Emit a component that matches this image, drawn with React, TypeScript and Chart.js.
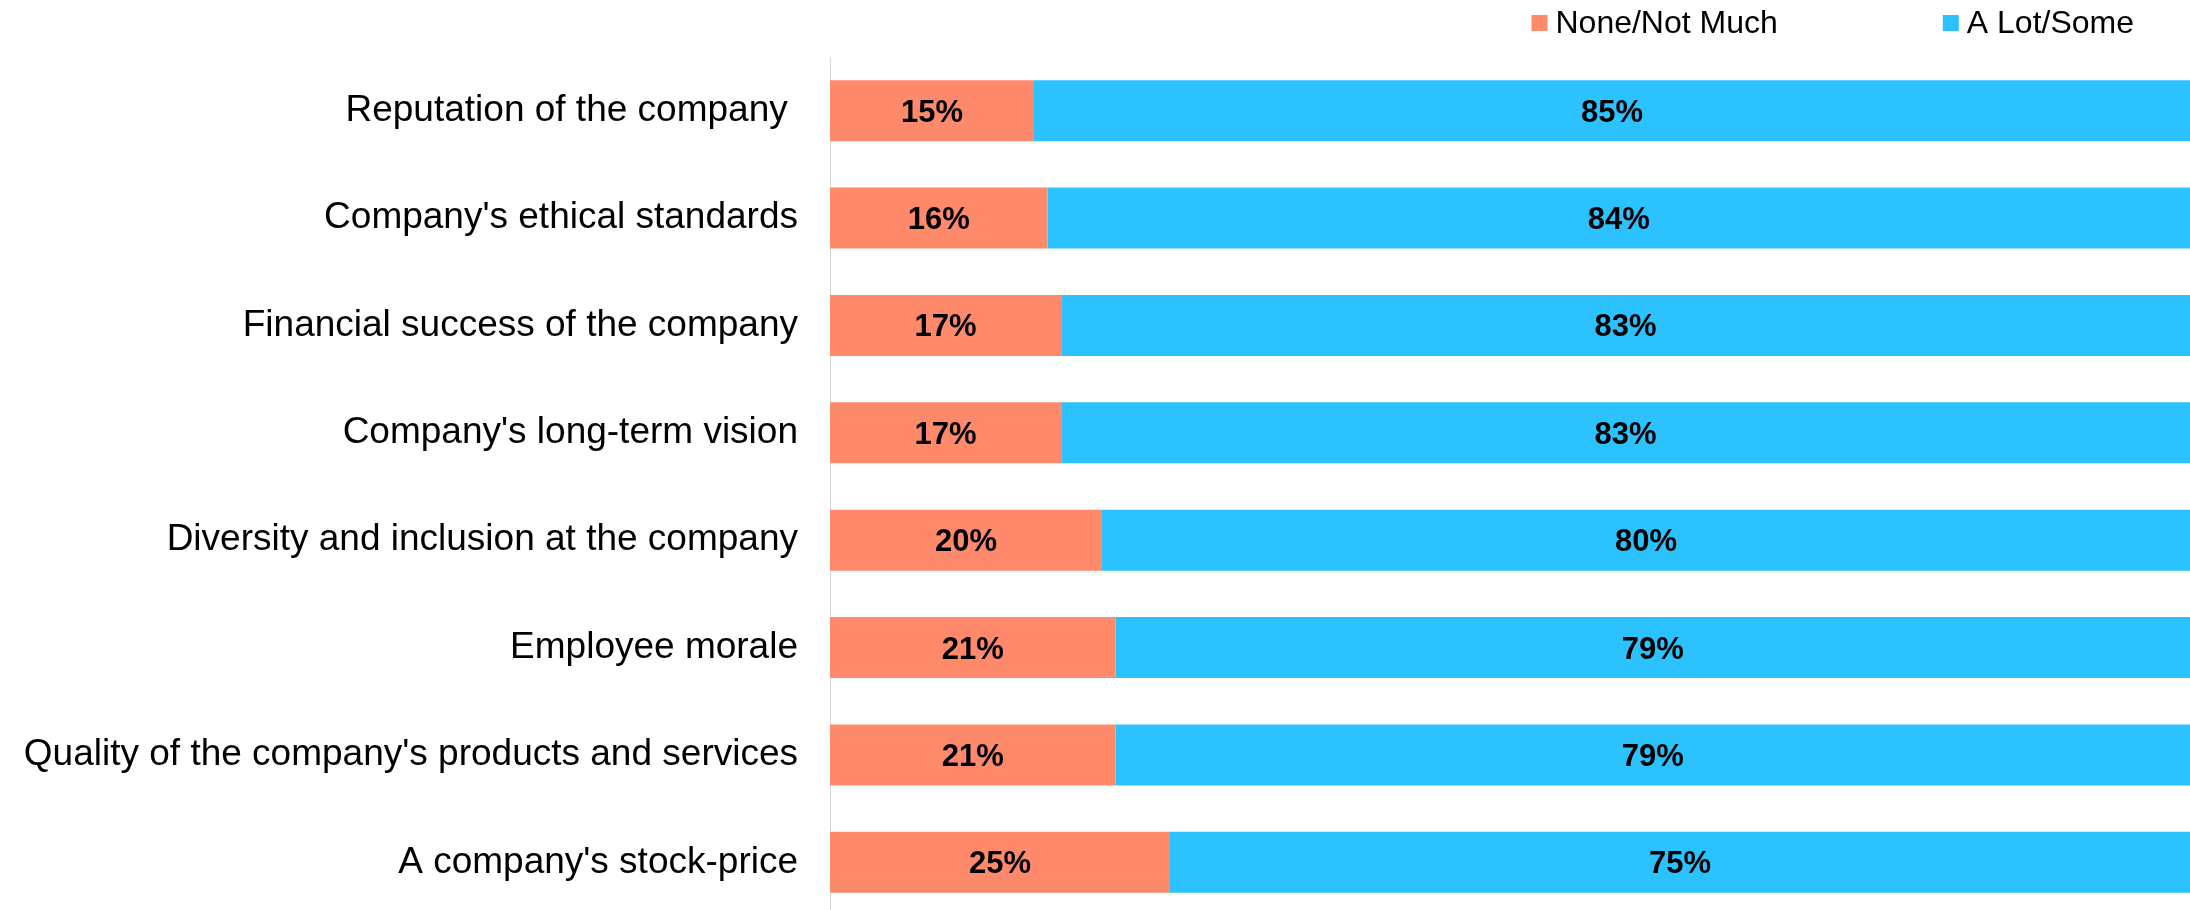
import React, { useEffect, useRef } from "react";
import { Chart, registerables } from "chart.js";

Chart.register(...registerables);

const categories = [
  "Reputation of the company ",
  "Company's ethical standards",
  "Financial success of the company",
  "Company's long-term vision",
  "Diversity and inclusion at the company",
  "Employee morale",
  "Quality of the company's products and services",
  "A company's stock-price",
];
const noneNotMuch = [15, 16, 17, 17, 20, 21, 21, 25];
const aLotSome = [85, 84, 83, 83, 80, 79, 79, 75];
const seriesNames = ["None/Not Much", "A Lot/Some"];
const seriesColors = ["#FF896B", "#2CC1FF"];

const FONT = "'Liberation Sans', Arial, Helvetica, sans-serif";

const barLabels = {
  id: "barLabels",
  afterDatasetsDraw(chart: any) {
    const ctx = chart.ctx;
    ctx.save();
    ctx.font = `bold 31px ${FONT}`;
    ctx.fillStyle = "#000000";
    ctx.textAlign = "center";
    ctx.textBaseline = "alphabetic";
    chart.data.datasets.forEach((ds: any, di: number) => {
      const meta = chart.getDatasetMeta(di);
      meta.data.forEach((el: any, i: number) => {
        const { x, base, y } = el.getProps(["x", "base", "y"], true);
        ctx.fillText(`${ds.data[i]}%`, (x + base) / 2, y + 11);
      });
    });
    ctx.restore();
  },
};

const topLegend = {
  id: "topLegend",
  afterDraw(chart: any) {
    const ctx = chart.ctx;
    ctx.save();
    ctx.font = `32px ${FONT}`;
    ctx.textAlign = "left";
    ctx.textBaseline = "alphabetic";
    const box = 16;
    const gap = 8;
    const itemGap = 165;
    const rightMargin = 56;
    const widths = seriesNames.map((n) => ctx.measureText(n).width);
    const total =
      widths.reduce((a, w) => a + box + gap + w, 0) + itemGap * (seriesNames.length - 1);
    let x = chart.width - rightMargin - total;
    seriesNames.forEach((name, i) => {
      ctx.fillStyle = seriesColors[i];
      ctx.fillRect(x, 15, box, box);
      ctx.fillStyle = "#000000";
      ctx.fillText(name, x + box + gap, 33);
      x += box + gap + widths[i] + itemGap;
    });
    ctx.restore();
  },
};

export default function App() {
  const ref = useRef<HTMLCanvasElement>(null);
  useEffect(() => {
    document.body.style.margin = "0";
    const chart = new Chart(ref.current as HTMLCanvasElement, {
      type: "bar",
      data: {
        labels: categories,
        datasets: [
          {
            label: seriesNames[0],
            data: noneNotMuch,
            backgroundColor: seriesColors[0],
            categoryPercentage: 1,
            barPercentage: 0.568,
          },
          {
            label: seriesNames[1],
            data: aLotSome,
            backgroundColor: seriesColors[1],
            categoryPercentage: 1,
            barPercentage: 0.568,
          },
        ],
      },
      options: {
        indexAxis: "y",
        responsive: false,
        animation: false,
        devicePixelRatio: 1,
        layout: { padding: { top: 57, right: 0, bottom: 0, left: 0 } },
        plugins: {
          legend: { display: false },
          tooltip: { enabled: false },
          title: { display: false },
        },
        scales: {
          x: { stacked: true, display: false, min: 0, max: 100 },
          y: {
            stacked: true,
            grid: { display: false, drawTicks: false },
            border: { display: true, color: "#D9D9D9", width: 1 },
            ticks: {
              color: "#000000",
              font: { family: FONT, size: 37 },
              padding: 32,
              autoSkip: false,
            },
            afterFit: (s: any) => {
              s.width = 830;
              s.paddingTop = 0;
              s.paddingBottom = 0;
            },
          },
        },
      } as any,
      plugins: [barLabels, topLegend],
    });
    return () => chart.destroy();
  }, []);
  return (
    <div style={{ width: 2190, height: 910, overflow: "hidden", position: "relative" }}>
      <canvas ref={ref} width={2190} height={916} style={{ display: "block" }} />
    </div>
  );
}
